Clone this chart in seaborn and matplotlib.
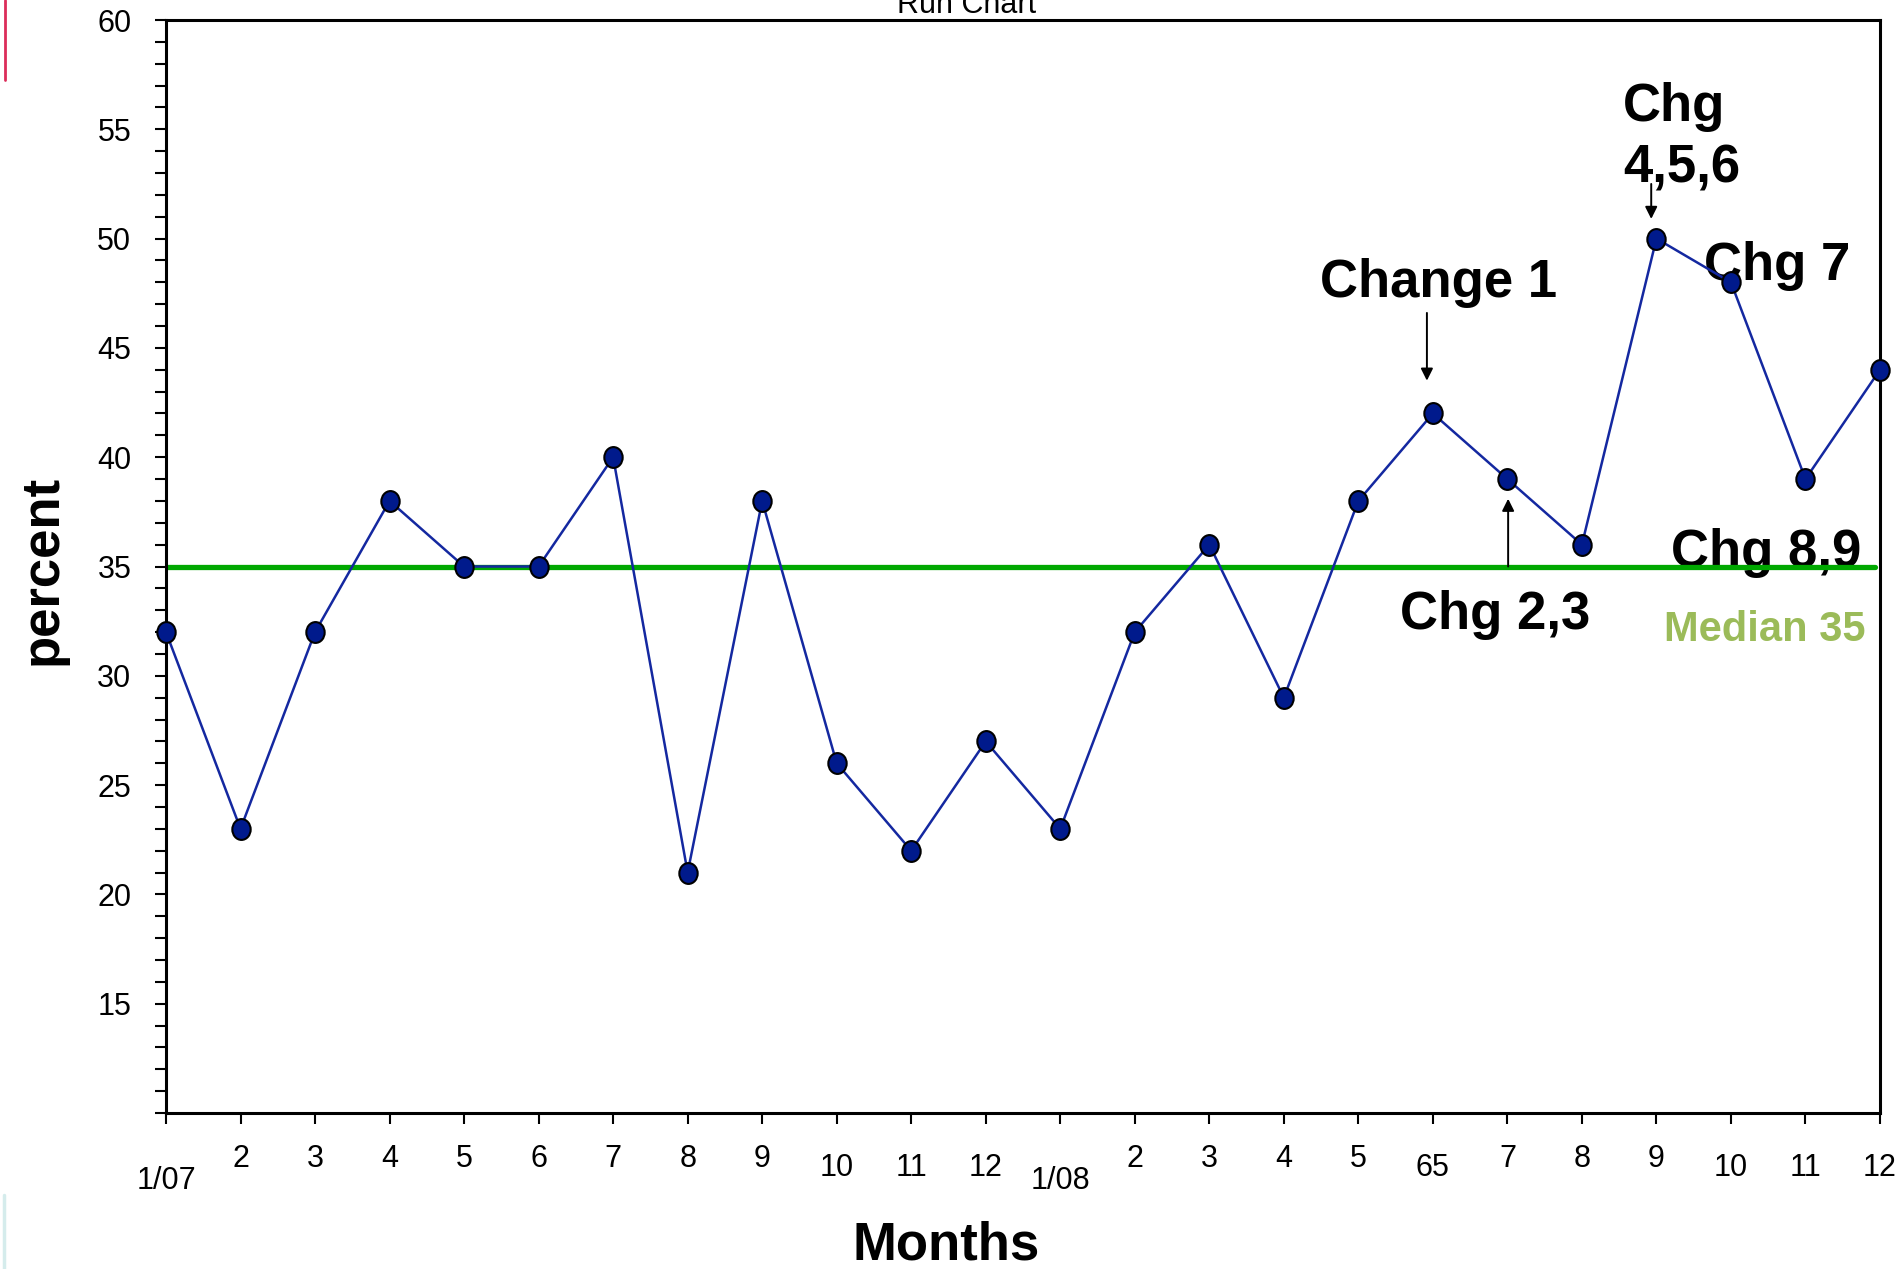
import numpy as np
import pandas as pd
import matplotlib
matplotlib.use("Agg")
import matplotlib.pyplot as plt
import seaborn as sns
from matplotlib.path import Path
from matplotlib.transforms import Affine2D
from matplotlib.lines import Line2D

# ---------------- data ----------------
month_labels = ["1/07", "2", "3", "4", "5", "6", "7", "8", "9", "10", "11", "12",
                "1/08", "2", "3", "4", "5", "65", "7", "8", "9", "10", "11", "12"]
percent_values = [32, 23, 32, 38, 35, 35, 40, 21, 38, 26, 22, 27,
                  23, 32, 36, 29, 38, 42, 39, 36, 50, 48, 39, 44]
median_value = 35
y_major_ticks = list(range(15, 61, 5))
y_minor_ticks = list(range(10, 61, 1))
title_text = "Run Chart"
x_title = "Months"
y_title = "percent"
median_text = "Median 35"

# ---------------- style ----------------
sns.set_style("ticks")
plt.rcParams["font.family"] = ["Liberation Sans", "DejaVu Sans"]
plt.rcParams["text.color"] = "black"
plt.rcParams["axes.labelcolor"] = "black"
plt.rcParams["xtick.color"] = "black"
plt.rcParams["ytick.color"] = "black"
plt.rcParams["xtick.labelcolor"] = "black"
plt.rcParams["ytick.labelcolor"] = "black"

W, H = 1902, 1269
fig = plt.figure(figsize=(W / 100, H / 100), dpi=100)
ax_l, ax_r, ax_t, ax_b = 166, 1880, 20, 1113
ax = fig.add_axes([ax_l / W, 1 - ax_b / H, (ax_r - ax_l) / W, (ax_b - ax_t) / H])

df = pd.DataFrame({"month": np.arange(len(percent_values)), "percent": percent_values})

ellipse = Path.unit_circle().transformed(Affine2D().scale(0.88, 1.0))

ax.axhline(median_value, xmin=0, xmax=0.997, color="#00a800", lw=3.8, zorder=2)

sns.lineplot(data=df, x="month", y="percent", ax=ax, color="#1428a0", linewidth=1.8,
             marker=ellipse, markersize=15, markerfacecolor="#001a8c",
             markeredgecolor="black", markeredgewidth=1.5, clip_on=False, zorder=3)

ax.set_xlim(0, len(percent_values) - 1)
ax.set_ylim(10, 60)

# spines
for s in ax.spines.values():
    s.set_visible(True)
    s.set_linewidth(2.2)
    s.set_color("black")

# ticks
ax.set_xticks(df["month"])
ax.set_xticklabels(month_labels)
ax.set_yticks(y_major_ticks)
ax.set_yticks(y_minor_ticks, minor=True)
ax.tick_params(axis="both", which="both", direction="out", length=8, width=1.5,
               color="black", labelcolor="black")
ax.tick_params(axis="y", which="major", labelsize=22, pad=17)
ax.tick_params(axis="x", which="major", labelsize=22)
ax.tick_params(axis="x", which="minor", bottom=False)

for tick, lab in zip(ax.xaxis.get_major_ticks(), month_labels):
    if "/" in lab:
        tick.set_pad(30)
    elif len(lab) == 2:
        tick.set_pad(21)
    else:
        tick.set_pad(14.5)

# axis titles
ax.set_xlabel(x_title, fontsize=38, fontweight="bold", color="black")
ax.xaxis.set_label_coords((946 - ax_l) / (ax_r - ax_l), (ax_b - 1259) / (ax_b - ax_t))
ax.xaxis.label.set_verticalalignment("baseline")
ax.set_ylabel(y_title, fontsize=38, fontweight="bold", color="black")
ax.yaxis.set_label_coords((43 - ax_l) / (ax_r - ax_l), (ax_b - 570) / (ax_b - ax_t))
ax.yaxis.label.set_verticalalignment("center")

# title (partially cut at top, as in the source)
fig.text(967 / W, 1 - 13 / H, title_text, ha="center", va="baseline", fontsize=22,
         color="black")

# annotations
bold = dict(fontsize=38, fontweight="bold", color="black", zorder=1, va="baseline", ha="left")
ax.text(15.49, 47.34, "Change 1", **bold)
ax.text(19.55, 55.37, "Chg", **bold)
ax.text(19.55, 52.57, "4,5,6", **bold)
ax.text(20.64, 48.12, "Chg 7", **bold)
ax.text(20.20, 35.0, "Chg 8,9", **bold)
ax.text(16.56, 32.16, "Chg 2,3", **bold)
ax.text(20.10, 31.6, median_text, fontsize=30, fontweight="bold", color="#9bbb59",
        va="baseline", ha="left", zorder=1)

arrow = dict(arrowstyle="-|>", mutation_scale=18, lw=1.4, color="black", shrinkA=0, shrinkB=0)
ax.annotate("", xy=(16.92, 43.5), xytext=(16.92, 46.6), arrowprops=arrow, zorder=2)
ax.annotate("", xy=(19.93, 50.9), xytext=(19.93, 52.5), arrowprops=arrow, zorder=2)
ax.annotate("", xy=(18.01, 38.1), xytext=(18.01, 35.0), arrowprops=arrow, zorder=2)

# stray edge marks from the source slide
fig.add_artist(Line2D([4.5 / W, 4.5 / W], [1, 1 - 80 / H], transform=fig.transFigure,
                      color="#dc2d5a", lw=2))
fig.add_artist(Line2D([4 / W, 4 / W], [1 - 1195 / H, 0], transform=fig.transFigure,
                      color="#d5ecec", lw=2.5))

fig.savefig("out.png", dpi=100)
